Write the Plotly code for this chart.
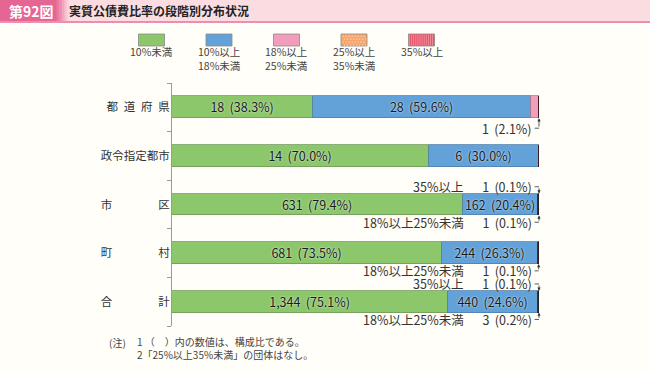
import plotly.graph_objects as go

# ---- data ----
categories = ["都道府県", "政令指定都市", "市区", "町村", "合計"]
tick_labels = ["都\u2002道\u2002府\u2002県", "政令指定都市", "市\u3000\u3000\u3000\u3000区", "町\u3000\u3000\u3000\u3000村", "合\u3000\u3000\u3000\u3000計"]
series_names = ["10%未満", "10%以上<br>18%未満", "18%以上<br>25%未満", "25%以上<br>35%未満", "35%以上"]
series_short = ["10%未満", "10%以上18%未満", "18%以上25%未満", "25%以上35%未満", "35%以上"]

counts_lt10 = [18, 14, 631, 681, 1344]
counts_10_18 = [28, 6, 162, 244, 440]
counts_18_25 = [1, 0, 1, 1, 3]
counts_25_35 = [0, 0, 0, 0, 0]
counts_ge35 = [0, 0, 1, 0, 1]

pct_lt10 = [38.3, 70.0, 79.4, 73.5, 75.1]
pct_10_18 = [59.6, 30.0, 20.4, 26.3, 24.6]
pct_18_25 = [2.1, 0.0, 0.1, 0.1, 0.2]
pct_25_35 = [0.0, 0.0, 0.0, 0.0, 0.0]
pct_ge35 = [0.0, 0.0, 0.1, 0.0, 0.1]

note_head = "(注)"
note_lines = ["1 （　）内の数値は、構成比である。", "2「25%以上35%未満」の団体はなし。"]
title_no = "第92図"
title_text = "実質公債費比率の段階別分布状況"

# ---- styles ----
FONT = "Noto Sans CJK JP"
BG = "#FFFEF8"
colors = ["#8DC76C", "#62A2D8", "#F39DBC", "#F8A66C", "#E9536A"]
patterns = ["", "", "", ".", "|"]
line_colors = ["#6F9A5A", "#4F7FAE", "#B07A8C", "#B07A55", "#3A1A20"]

all_counts = [counts_lt10, counts_10_18, counts_18_25, counts_25_35, counts_ge35]
all_pcts = [pct_lt10, pct_10_18, pct_18_25, pct_25_35, pct_ge35]

ypos = list(range(len(categories)))
BAR_W = 0.45

fig = go.Figure()
for s in range(5):
    texts = []
    lcols = []
    for c, p in zip(all_counts[s], all_pcts[s]):
        texts.append(f"{c:,}\u2009 ({p:.1f}%)" if p >= 5 else "")
        lcols.append("#222222" if 0 < p < 1 else line_colors[s])
    fig.add_trace(go.Bar(
        y=ypos, x=all_pcts[s], orientation="h", width=BAR_W,
        name=series_short[s],
        marker=dict(color=colors[s], line=dict(color=lcols, width=0.8)),
        text=texts, textposition="inside", insidetextanchor="middle",
        textfont=dict(family=FONT, size=12.5, color="#1A1A1A", shadow="0px 0px 2px #ffffff"),
        showlegend=False, hoverinfo="skip",
    ))

shapes = []
annotations = []

# small segment labels with leader lines
LBL_OFF = {0: 0.43}
for i, cat in enumerate(categories):
    total = sum(all_pcts[s][i] for s in range(5))
    end = min(total, 100)
    for s, side in ((4, -1), (2, 1)):
        p = all_pcts[s][i]
        c = all_counts[s][i]
        if c <= 0 or p >= 5:
            continue
        prefix = (series_short[s] + "\u3000\u2002") if p < 1 else ""
        off = LBL_OFF.get(i, 0.365)
        ly = i + side * off
        edge = i + side * BAR_W / 2
        annotations.append(dict(x=98.5, y=ly, xref="x", yref="y", xanchor="right", yanchor="middle",
                                text=f"{prefix}{c}\u2009 ({p:.1f}%)", showarrow=False,
                                font=dict(family=FONT, size=12.5, color="#333333")))
        shapes.append(dict(type="line", xref="x", yref="y", x0=98.8, x1=end, y0=ly, y1=ly,
                           line=dict(color="#333333", width=0.8)))
        annotations.append(dict(x=end, y=edge, xref="x", yref="y", ax=end, ay=ly, axref="x", ayref="y",
                                text="", showarrow=True, arrowhead=2, arrowsize=0.8, arrowwidth=0.8,
                                arrowcolor="#333333"))

PX_W, PX_H = 650, 372
L, R, T, B = 172, 111, 83, 46
pw, ph = PX_W - L - R, PX_H - T - B


def px_x(x):
    return (x - L) / pw


def px_y(y):
    return 1 - (y - T) / ph


# title band
shapes.append(dict(type="rect", xref="paper", yref="paper", x0=px_x(0), x1=px_x(650), y0=px_y(21), y1=px_y(0),
                   fillcolor="#FBDDE1", line=dict(width=0)))
shapes.append(dict(type="rect", xref="paper", yref="paper", x0=px_x(0), x1=px_x(650), y0=px_y(23), y1=px_y(21),
                   fillcolor="#EB8FAE", line=dict(width=0)))
grad = ["#E56692", "#E66E98", "#E9799F", "#EC86A9", "#EF95B3", "#F2A5BE", "#F5B5C9", "#F8C5D3", "#FAD3DB"]
shapes.append(dict(type="rect", xref="paper", yref="paper", x0=px_x(0), x1=px_x(56), y0=px_y(21), y1=px_y(0),
                   fillcolor=grad[0], line=dict(width=0)))
for k, col in enumerate(grad[1:]):
    shapes.append(dict(type="rect", xref="paper", yref="paper", x0=px_x(56 + k * 1.6), x1=px_x(56 + (k + 1) * 1.6 + 0.3),
                       y0=px_y(21), y1=px_y(0), fillcolor=col, line=dict(width=0)))
annotations.append(dict(xref="paper", yref="paper", x=px_x(7), y=px_y(10.5), xanchor="left", yanchor="middle",
                        text=f"<b>{title_no}</b>", showarrow=False, font=dict(family=FONT, size=14, color="#FFFFFF")))
annotations.append(dict(xref="paper", yref="paper", x=px_x(67), y=px_y(10.5), xanchor="left", yanchor="middle",
                        text=f"<b>{title_text}</b>", showarrow=False, font=dict(family=FONT, size=12, color="#222222")))

# legend
for s in range(5):
    cx = 151.5 + 67.5 * s
    shapes.append(dict(type="rect", xref="paper", yref="paper", x0=px_x(cx - 13), x1=px_x(cx + 13),
                       y0=px_y(46), y1=px_y(34), fillcolor=colors[s], line=dict(color="#8A8A8A", width=0.8)))
    if patterns[s] == "|":
        for k in range(12):
            xx = cx - 12 + k * 2.1
            shapes.append(dict(type="line", xref="paper", yref="paper", x0=px_x(xx), x1=px_x(xx),
                               y0=px_y(45.5), y1=px_y(34.5), line=dict(color="#F7A0AC", width=0.7)))
    elif patterns[s] == ".":
        for r in range(4):
            for k in range(8):
                xx = cx - 11.5 + k * 3 + (1.5 if r % 2 else 0)
                yy = 35.5 + r * 3
                shapes.append(dict(type="rect", xref="paper", yref="paper", x0=px_x(xx), x1=px_x(xx + 1.2),
                                   y0=px_y(yy + 1.2), y1=px_y(yy), fillcolor="#FCD2B2", line=dict(width=0)))
    annotations.append(dict(xref="paper", yref="paper", x=px_x(cx), y=px_y(42.5), xanchor="center", yanchor="top",
                            text=series_names[s], showarrow=False, align="center",
                            font=dict(family=FONT, size=10.5, color="#444444")))

# notes
note_font = dict(family=FONT, size=10, color="#444444")
annotations.append(dict(xref="paper", yref="paper", x=px_x(107), y=px_y(342), xanchor="left", yanchor="middle",
                        text=note_head, showarrow=False, font=note_font))
annotations.append(dict(xref="paper", yref="paper", x=px_x(135), y=px_y(332), xanchor="left",
                        yanchor="top", text="<br>".join(note_lines), showarrow=False, align="left",
                        font=note_font))

fig.update_layout(
    width=PX_W, height=PX_H,
    margin=dict(l=L, r=R, t=T, b=B),
    paper_bgcolor=BG, plot_bgcolor=BG,
    barmode="stack", bargap=0,
    uniformtext=dict(minsize=12.5, mode="show"),
    xaxis=dict(range=[0, 100], visible=False, fixedrange=True),
    yaxis=dict(range=[len(categories) - 0.5, -0.5], tickvals=ypos, ticktext=tick_labels,
               showgrid=False, zeroline=False, showline=True, linecolor="#9A9A9A", linewidth=1,
               ticks="", ticklen=0, tickfont=dict(family=FONT, size=11.5, color="#333333"),
               ticklabelstandoff=-1, fixedrange=True,
               minor=dict(tickvals=[i - 0.5 for i in range(len(categories) + 1)], ticks="outside",
                          ticklen=4, tickcolor="#9A9A9A", tickwidth=1, showgrid=False)),
    shapes=shapes, annotations=annotations,
    font=dict(family=FONT),
)

fig.write_html("out.html", config={"displayModeBar": False},
               post_script="document.body.style.margin='0';document.body.style.background='%s';" % BG)
